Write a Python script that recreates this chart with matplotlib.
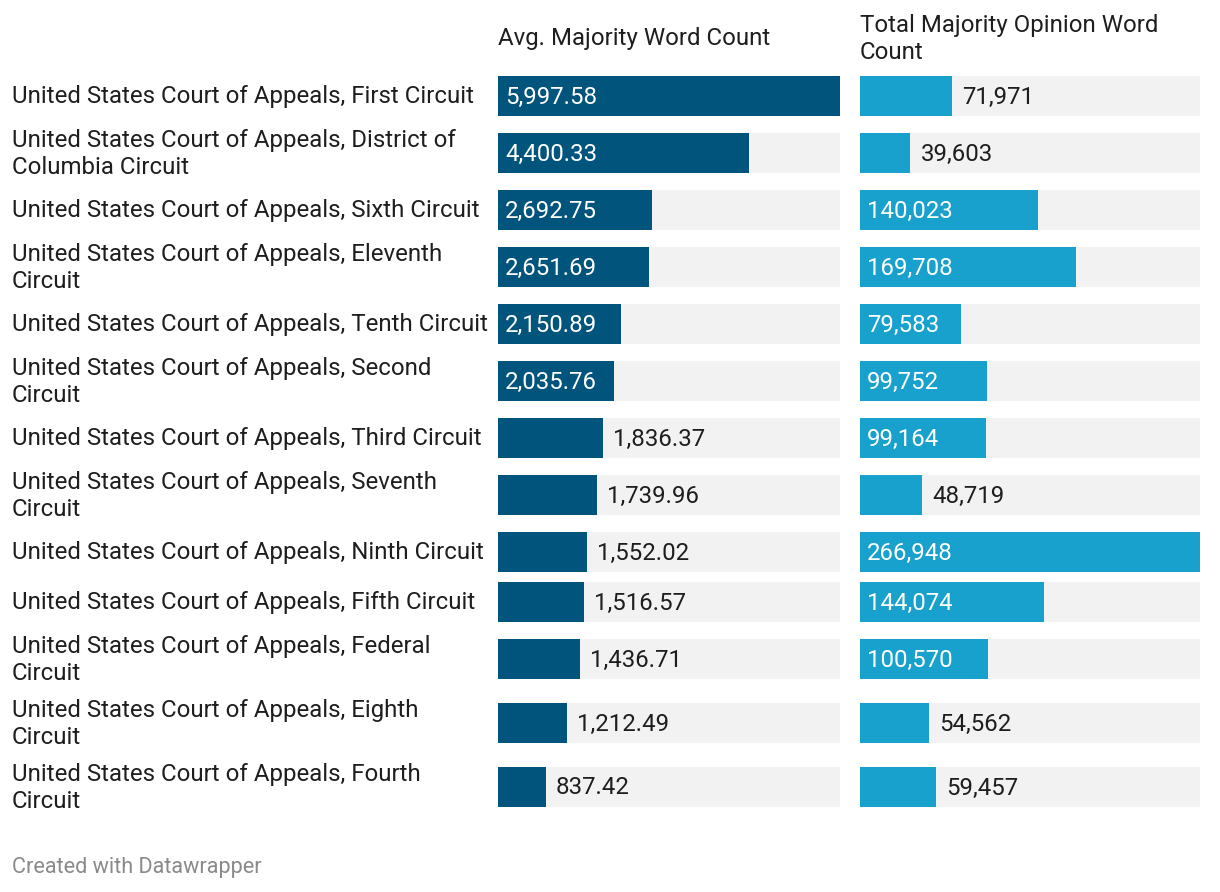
import matplotlib
matplotlib.use('Agg')
import matplotlib.pyplot as plt

courts = [
    "United States Court of Appeals, First Circuit",
    "United States Court of Appeals, District of\nColumbia Circuit",
    "United States Court of Appeals, Sixth Circuit",
    "United States Court of Appeals, Eleventh\nCircuit",
    "United States Court of Appeals, Tenth Circuit",
    "United States Court of Appeals, Second\nCircuit",
    "United States Court of Appeals, Third Circuit",
    "United States Court of Appeals, Seventh\nCircuit",
    "United States Court of Appeals, Ninth Circuit",
    "United States Court of Appeals, Fifth Circuit",
    "United States Court of Appeals, Federal\nCircuit",
    "United States Court of Appeals, Eighth\nCircuit",
    "United States Court of Appeals, Fourth\nCircuit",
]
avg_words = [5997.58, 4400.33, 2692.75, 2651.69, 2150.89, 2035.76, 1836.37,
             1739.96, 1552.02, 1516.57, 1436.71, 1212.49, 837.42]
total_words = [71971, 39603, 140023, 169708, 79583, 99752, 99164,
               48719, 266948, 144074, 100570, 54562, 59457]
col_titles = ["Avg. Majority Word Count", "Total Majority Opinion Word\nCount"]
footer = "Created with Datawrapper"

plt.rcParams['font.family'] = ['Roboto', 'DejaVu Sans']

W, H = 1220, 892
fig = plt.figure(figsize=(W / 100, H / 100), dpi=100)

FS = 17.3
TXT = '#1e1e1e'
DARK = '#01547c'
LIGHT = '#18a1cd'
BG = '#f2f2f2'

# row layout from label line counts
row_h = [64 if '\n' in c else 50 for c in courts]
centers = [96]
for i in range(1, len(courts)):
    centers.append(centers[-1] + (row_h[i - 1] + row_h[i]) / 2)

# text axes in pixel coordinates
tax = fig.add_axes([0, 0, 1, 1])
tax.set_xlim(0, W)
tax.set_ylim(H, 0)
tax.axis('off')

for c, y in zip(courts, centers):
    tax.text(12, y + 1, c, ha='left', va='center', fontsize=FS, color=TXT,
             linespacing=1.23)

tax.text(498, 39, col_titles[0], ha='left', va='center', fontsize=FS, color=TXT)
tax.text(860, 39, col_titles[1], ha='left', va='center', fontsize=FS, color=TXT,
         linespacing=1.23)
tax.text(12, 867, footer, ha='left', va='center', fontsize=15.6, color='#8a8a8a')

panels = [
    (498, 342, avg_words, DARK, lambda v: f"{v:,.2f}"),
    (860, 340, total_words, LIGHT, lambda v: f"{v:,.0f}"),
]

fig.canvas.draw()
renderer = fig.canvas.get_renderer()

for x0, wpx, vals, color, fmt in panels:
    ax = fig.add_axes([x0 / W, 0, wpx / W, 1])
    vmax = max(vals)
    ax.set_xlim(0, vmax)
    ax.set_ylim(H, 0)
    ax.axis('off')
    ax.barh(centers, [vmax] * len(vals), height=40, color=BG, linewidth=0)
    ax.barh(centers, vals, height=40, color=color, linewidth=0)
    px_per_unit = wpx / vmax
    for v, y in zip(vals, centers):
        label = fmt(v)
        t = tax.text(0, 0, label, fontsize=FS)
        tw = t.get_window_extent(renderer).width
        t.remove()
        bar_px = v * px_per_unit
        if bar_px - tw > 22:
            ax.annotate(label, xy=(0, y), xytext=(7, -1), textcoords='offset pixels',
                        ha='left', va='center', fontsize=FS, color='white')
        else:
            ax.annotate(label, xy=(v, y), xytext=(10, -1), textcoords='offset pixels',
                        ha='left', va='center', fontsize=FS, color=TXT)

fig.savefig('out.png', dpi=100)
